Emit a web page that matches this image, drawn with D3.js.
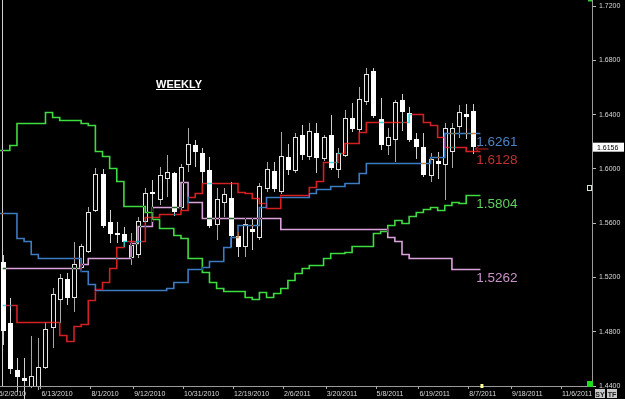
<!DOCTYPE html>
<html><head><meta charset="utf-8">
<script src="https://cdnjs.cloudflare.com/ajax/libs/d3/7.8.5/d3.min.js"></script>
<style>html,body{margin:0;padding:0;background:#000;overflow:hidden}</style>
</head><body>
<svg id="c" width="625" height="399"></svg>
<script>
// ---- data ----
const tickWeeks  = [0, 6, 13, 19, 26, 33, 40, 46, 53, 59, 66, 72, 79];
const tickLabels = ["5/2/2010","6/13/2010","8/1/2010","9/12/2010","10/31/2010","12/19/2010","2/6/2011","3/20/2011","5/8/2011","6/19/2011","8/7/2011","9/18/2011","11/6/2011"];
const priceTicks = [1.44, 1.48, 1.52, 1.56, 1.60, 1.64, 1.68, 1.72];
const lastPrice = 1.6156;

const opens  = [1.5310,1.4861,1.4514,1.4455,1.4396,1.4396,1.4536,1.4824,1.5037,1.5185,1.5052,1.5266,1.5391,1.5693,1.5958,1.5605,1.5524,1.5516,1.5340,1.5362,1.5605,1.5826,1.5774,1.5922,1.5966,1.5708,1.6025,1.6172,1.6113,1.5988,1.5583,1.5752,1.5782,1.5502,1.5421,1.5553,1.5494,1.5848,1.5981,1.5826,1.6084,1.5981,1.6246,1.6091,1.6261,1.6076,1.6246,1.5988,1.6098,1.6371,1.6283,1.6496,1.6717,1.6364,1.6172,1.6209,1.6504,1.6408,1.6216,1.6157,1.5944,1.6054,1.6025,1.6121,1.6305,1.6401,1.6423];
const highs  = [1.5362,1.5045,1.4603,1.4603,1.4765,1.4750,1.4868,1.5118,1.5222,1.5229,1.5457,1.5443,1.5715,1.6003,1.5995,1.5693,1.5605,1.5568,1.5524,1.5642,1.5855,1.5914,1.6010,1.6098,1.5973,1.6032,1.6297,1.6209,1.6150,1.6084,1.5855,1.5855,1.5899,1.5531,1.5634,1.5634,1.5892,1.6047,1.6047,1.6268,1.6179,1.6261,1.6319,1.6334,1.6334,1.6246,1.6393,1.6150,1.6430,1.6482,1.6599,1.6739,1.6739,1.6518,1.6297,1.6504,1.6548,1.6452,1.6261,1.6261,1.6113,1.6121,1.6334,1.6334,1.6467,1.6474,1.6474];
const lows   = [1.4698,1.4485,1.4352,1.4301,1.4382,1.4367,1.4522,1.4676,1.4861,1.4993,1.4942,1.5236,1.5376,1.5678,1.5561,1.5450,1.5450,1.5421,1.5288,1.5340,1.5590,1.5605,1.5730,1.5789,1.5649,1.5693,1.5973,1.6010,1.5892,1.5561,1.5472,1.5642,1.5421,1.5347,1.5347,1.5398,1.5472,1.5826,1.5826,1.5811,1.5951,1.5966,1.6062,1.6062,1.5966,1.6054,1.5988,1.5929,1.6084,1.6268,1.6261,1.6467,1.6371,1.6135,1.6098,1.6047,1.6275,1.6194,1.6069,1.5936,1.5899,1.5922,1.5767,1.6003,1.6224,1.6216,1.6106];
const closes = [1.4802,1.4522,1.4463,1.4433,1.4463,1.4529,1.4816,1.5067,1.5192,1.5045,1.5288,1.5421,1.5678,1.5958,1.5575,1.5516,1.5509,1.5457,1.5435,1.5605,1.5818,1.5811,1.5951,1.5973,1.5678,1.6010,1.6179,1.6121,1.5973,1.5575,1.5767,1.5804,1.5502,1.5421,1.5590,1.5531,1.5863,1.5995,1.5848,1.6091,1.5988,1.6224,1.6098,1.6268,1.6076,1.6224,1.6003,1.6113,1.6371,1.6290,1.6504,1.6695,1.6386,1.6172,1.6231,1.6482,1.6415,1.6209,1.6157,1.5951,1.6062,1.6032,1.6297,1.6297,1.6415,1.6378,1.6156];

// indicator step lines (green & blue start one bar before the first candle)
const greenStart = -1;
const greenLine = [1.6135,1.6135,1.6172,1.6334,1.6334,1.6334,1.6334,1.6415,1.6378,1.6356,1.6356,1.6356,1.6334,1.6319,1.6128,1.6091,1.6003,1.5907,1.5723,1.5723,1.5723,1.5678,1.5627,1.5561,1.5561,1.5509,1.5487,1.5340,1.5340,1.5236,1.5163,1.5118,1.5096,1.5096,1.5096,1.5052,1.5037,1.5089,1.5052,1.5082,1.5118,1.5177,1.5229,1.5266,1.5288,1.5288,1.5340,1.5376,1.5376,1.5384,1.5428,1.5428,1.5428,1.5524,1.5538,1.5583,1.5620,1.5597,1.5649,1.5678,1.5701,1.5715,1.5693,1.5730,1.5752,1.5745,1.5804,1.5804];
const blueStart = -1;
const blueLine = [1.5671,1.5671,1.5671,1.5487,1.5465,1.5369,1.5340,1.5340,1.5340,1.5340,1.5340,1.5340,1.5244,1.5148,1.5104,1.5104,1.5104,1.5104,1.5104,1.5104,1.5104,1.5104,1.5104,1.5104,1.5118,1.5163,1.5163,1.5258,1.5258,1.5273,1.5317,1.5317,1.5421,1.5494,1.5583,1.5583,1.5583,1.5715,1.5789,1.5789,1.5789,1.5789,1.5789,1.5789,1.5818,1.5848,1.5848,1.5870,1.5870,1.5892,1.5892,1.5966,1.6039,1.6039,1.6039,1.6039,1.6039,1.6039,1.6039,1.6039,1.6039,1.6084,1.6084,1.6261,1.6261,1.6261,1.6261,1.6261];
const redStart = 0;
const redLine = [1.4993,1.4993,1.4868,1.4868,1.4868,1.4868,1.4868,1.4868,1.4772,1.4728,1.4838,1.4853,1.5030,1.5111,1.5163,1.5266,1.5421,1.5465,1.5465,1.5465,1.5642,1.5642,1.5664,1.5664,1.5664,1.5693,1.5789,1.5818,1.5892,1.5892,1.5892,1.5892,1.5892,1.5826,1.5818,1.5782,1.5745,1.5708,1.5708,1.5804,1.5804,1.5804,1.5804,1.5863,1.5907,1.6047,1.6047,1.6113,1.6187,1.6187,1.6268,1.6342,1.6342,1.6342,1.6342,1.6342,1.6342,1.6401,1.6401,1.6342,1.6319,1.6231,1.6157,1.6157,1.6157,1.6128,1.6128];
const pinkStart = 0;
const pinkLine = [1.5266,1.5266,1.5266,1.5266,1.5266,1.5266,1.5266,1.5266,1.5266,1.5266,1.5266,1.5295,1.5340,1.5340,1.5340,1.5340,1.5340,1.5340,1.5450,1.5575,1.5575,1.5715,1.5715,1.5715,1.5715,1.5899,1.5752,1.5752,1.5634,1.5634,1.5634,1.5634,1.5634,1.5634,1.5634,1.5634,1.5634,1.5634,1.5634,1.5553,1.5553,1.5553,1.5553,1.5553,1.5553,1.5553,1.5553,1.5553,1.5553,1.5553,1.5553,1.5553,1.5553,1.5553,1.5494,1.5465,1.5369,1.5340,1.5340,1.5340,1.5340,1.5340,1.5340,1.5262,1.5262,1.5262,1.5262];

const lineNames  = ["blue", "red", "green", "pink"];
const lineColors = ["#3b7cc2", "#d42020", "#3fdc3f", "#dba2db"];
const labelColors= ["#4d82c0", "#c23030", "#5fcf5f", "#c993c9"];

// ---- drawing ----
const W = 625, H = 399;
const svg = d3.select("#c");
svg.append("rect").attr("width", W).attr("height", H).attr("fill", "#000");

const x = d3.scaleLinear().domain([0, 79]).range([-2.3, 561]);
const xc = i => x(i) + 5;               // candle centre inside its week slot
const y = d3.scaleLinear().domain([1.44, 1.72]).range([385.5, 5.5]);

// left marker line
svg.append("line").attr("x1", 2.5).attr("x2", 2.5).attr("y1", 0).attr("y2", 386)
  .attr("stroke", "#cfcfcf").attr("stroke-width", 1);

// candles
const candles = opens.map((o, i) => ({i, o, h: highs[i], l: lows[i], c: closes[i]}));
const cg = svg.append("g").attr("shape-rendering", "crispEdges");
cg.selectAll("line.wick").data(candles).join("line")
  .attr("x1", d => Math.round(xc(d.i)) + 0.5).attr("x2", d => Math.round(xc(d.i)) + 0.5)
  .attr("y1", d => y(d.h)).attr("y2", d => y(d.l))
  .attr("stroke", d => d.c >= d.o ? "#a8a8a8" : "#d0d0d0").attr("stroke-width", 1);
cg.selectAll("rect.body").data(candles).join("rect")
  .attr("x", d => d.c >= d.o ? Math.round(xc(d.i)) - 1.5 : Math.round(xc(d.i)) - 2)
  .attr("width", d => d.c >= d.o ? 4 : 5)
  .attr("y", d => y(Math.max(d.o, d.c)))
  .attr("height", d => Math.max(1.5, Math.abs(y(d.o) - y(d.c))))
  .attr("fill", d => d.c >= d.o ? "#000" : "#fff")
  .attr("stroke", d => d.c >= d.o ? "#e4e4e4" : "none")
  .attr("stroke-width", 1);

// indicator step lines (drawn as XOR-like difference over the candles)
const series = [
  {start: blueStart, vals: blueLine},
  {start: redStart, vals: redLine},
  {start: greenStart, vals: greenLine},
  {start: pinkStart, vals: pinkLine}
];
const stepLine = d3.line().x(d => xc(d.i)).y(d => Math.round(y(d.v)) + 0.5).curve(d3.curveStepAfter);
series.forEach((s, k) => {
  const pts = s.vals.map((v, j) => ({i: s.start + j, v}));
  pts.push({i: s.start + s.vals.length, v: s.vals[s.vals.length - 1]});
  svg.append("path").datum(pts).attr("d", stepLine)
    .attr("fill", "none").attr("stroke", lineColors[k]).attr("stroke-width", 1.6)
    .style("mix-blend-mode", "difference");
});

// red arrow marker at the end of the red line
const lastIdx = opens.length - 1;
const ra = y(redLine[redLine.length - 1]) - 2;
svg.append("path")
  .attr("d", `M${xc(lastIdx) + 2},${ra} L${xc(lastIdx) + 15},${ra} M${xc(lastIdx) + 2},${ra} L${xc(lastIdx) + 6},${ra - 3} M${xc(lastIdx) + 2},${ra} L${xc(lastIdx) + 6},${ra + 3}`)
  .attr("stroke", "#c02020").attr("stroke-width", 1).attr("fill", "none");

// end-value labels
const fmt = d3.format(".4f");
series.forEach((s, k) => {
  const v = s.vals[s.vals.length - 1];
  svg.append("text").attr("x", xc(lastIdx) + 3).attr("y", y(v) + 13.5)
    .attr("font-family", "Liberation Sans, Arial, sans-serif").attr("font-size", 13.5)
    .attr("fill", labelColors[k]).text(fmt(v));
});

// title
svg.append("text").attr("x", 156).attr("y", 87.5)
  .attr("font-family", "Liberation Sans, Arial, sans-serif").attr("font-size", 11).attr("font-weight", "bold")
  .attr("fill", "#fff").text("WEEKLY");
svg.append("line").attr("x1", 156).attr("x2", 201).attr("y1", 89.5).attr("y2", 89.5)
  .attr("stroke", "#fff").attr("stroke-width", 1);

// bottom axis
const axisY = 386;
svg.append("line").attr("x1", 0).attr("x2", 592).attr("y1", axisY + 0.5).attr("y2", axisY + 0.5)
  .attr("stroke", "#9a9a9a").attr("stroke-width", 1);
const bt = svg.append("g");
tickWeeks.forEach((w, k) => {
  bt.append("line").attr("x1", Math.round(x(w)) + 0.5).attr("x2", Math.round(x(w)) + 0.5)
    .attr("y1", axisY).attr("y2", axisY + 3).attr("stroke", "#aaa");
  bt.append("text").attr("x", x(w) + 1).attr("y", 396)
    .attr("font-family", "Liberation Sans, Arial, sans-serif").attr("font-size", 7)
    .attr("fill", "#d8d8d8").text(tickLabels[k]);
});
// next-bar marker
svg.append("rect").attr("x", xc(lastIdx + 1)).attr("y", 384).attr("width", 3).attr("height", 4).attr("fill", "#ffff99");

// right axis
const axX = 592;
svg.append("line").attr("x1", axX + 0.5).attr("x2", axX + 0.5).attr("y1", 0).attr("y2", axisY + 1)
  .attr("stroke", "#9a9a9a").attr("stroke-width", 1);
priceTicks.forEach(p => {
  svg.append("line").attr("x1", axX + 1).attr("x2", axX + 4).attr("y1", Math.round(y(p)) + 0.5).attr("y2", Math.round(y(p)) + 0.5)
    .attr("stroke", "#bbb");
  svg.append("text").attr("x", 599).attr("y", y(p) + 2.5)
    .attr("font-family", "Liberation Sans, Arial, sans-serif").attr("font-size", 7)
    .attr("fill", "#d8d8d8").text(fmt(p));
});
// current price box
svg.append("rect").attr("x", 593).attr("y", y(lastPrice) - 4.5).attr("width", 31).attr("height", 9).attr("fill", "#fff");
svg.append("text").attr("x", 597).attr("y", y(lastPrice) + 2.5)
  .attr("font-family", "Liberation Sans, Arial, sans-serif").attr("font-size", 7)
  .attr("fill", "#000").text(fmt(lastPrice));
// small markers on the price axis
svg.append("rect").attr("x", 587.5).attr("y", 185.5).attr("width", 4).attr("height", 5)
  .attr("fill", "#000").attr("stroke", "#cfe8cf").attr("stroke-width", 1);
svg.append("rect").attr("x", 588).attr("y", 0).attr("width", 4).attr("height", 1.5).attr("fill", "#3c3");
svg.append("rect").attr("x", 587).attr("y", 381).attr("width", 6).attr("height", 6).attr("fill", "#1fdc1f");
// SY / TF buttons
[["SY", 595], ["TF", 607]].forEach(([t, bx]) => {
  svg.append("rect").attr("x", bx).attr("y", 389).attr("width", 10).attr("height", 9).attr("fill", "#c8c8c8");
  svg.append("text").attr("x", bx + 5).attr("y", 396.5).attr("text-anchor", "middle")
    .attr("font-family", "Liberation Sans, Arial, sans-serif").attr("font-size", 7).attr("font-weight", "bold")
    .attr("fill", "#222").text(t);
});
</script>
</body></html>
